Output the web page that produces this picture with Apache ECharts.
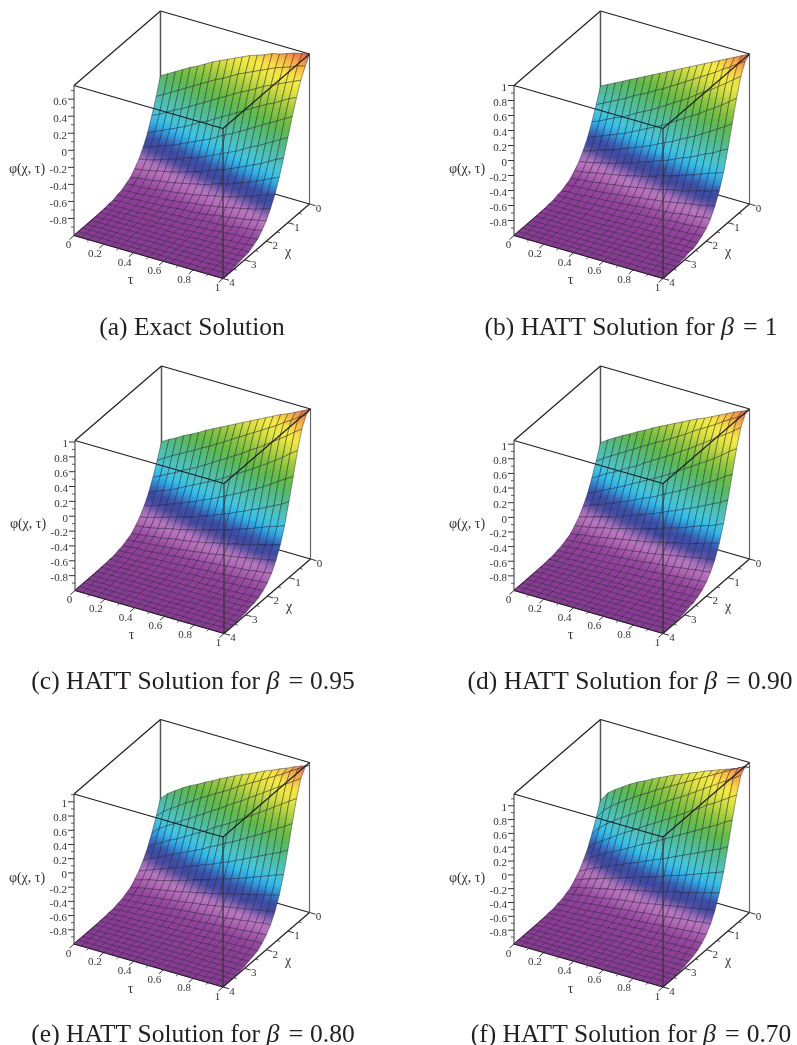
<!DOCTYPE html>
<html>
<head>
<meta charset="utf-8">
<style>html,body{margin:0;padding:0;background:#fff}#c{width:797px;height:1045px}</style>
<script src="https://cdn.jsdelivr.net/npm/echarts@6/dist/echarts.min.js"></script>
</head>
<body>
<div id="c"></div>
<script>
const tauValues = [0,.05,.1,.15,.2,.25,.3,.35,.4,.45,.5,.55,.6,.65,.7,.75,.8,.85,.9,.95,1];
const chiValues = [0,.2,.4,.6,.8,1,1.2,1.4,1.6,1.8,2,2.2,2.4,2.6,2.8,3,3.2,3.4,3.6,3.8,4];
const tauTicks = [0,.2,.4,.6,.8,1];
const tauMinor = [.1,.3,.5,.7,.9];
const chiTicks = [0,1,2,3,4];
const chiMinor = [.5,1.5,2.5,3.5];
const phiTicksExact = [.6,.4,.2,0,-.2,-.4,-.6,-.8];
const phiTicks = [1,.8,.6,.4,.2,0,-.2,-.4,-.6,-.8];
const phiMinor = [1.1,.9,.7,.5,.3,.1,-.1,-.3,-.5,-.7,-.9];
const captionA = '(a) Exact Solution';
const captionB = '(b) HATT Solution for {m|β}{e|=}1';
const captionC = '(c) HATT Solution for {m|β}{e|=}0.95';
const captionD = '(d) HATT Solution for {m|β}{e|=}0.90';
const captionE = '(e) HATT Solution for {m|β}{e|=}0.80';
const captionF = '(f) HATT Solution for {m|β}{e|=}0.70';

// far side of every surface (chi = 2.8 ... 4), rows of tau = 0 ... 1
const farRows = [
[-.99,-.99,-.99,-.99,-.98,-.98,-.98,-.98,-.98,-.98,-.97,-.97,-.97,-.97,-.97,-.97,-.96,-.96,-.96,-.96,-.95],
[-1,-.99,-.99,-.99,-.99,-.99,-.99,-.99,-.99,-.98,-.98,-.98,-.98,-.98,-.98,-.98,-.98,-.97,-.97,-.97,-.97],
[-1,-1,-1,-.99,-.99,-.99,-.99,-.99,-.99,-.99,-.99,-.99,-.99,-.98,-.98,-.98,-.98,-.98,-.98,-.98,-.98],
[-1,-1,-1,-1,-1,-1,-1,-.99,-.99,-.99,-.99,-.99,-.99,-.99,-.99,-.99,-.99,-.99,-.99,-.99,-.99],
[-1,-1,-1,-1,-1,-1,-1,-1,-1,-1,-1,-1,-.99,-.99,-.99,-.99,-.99,-.99,-.99,-.99,-.99],
[-1,-1,-1,-1,-1,-1,-1,-1,-1,-1,-1,-1,-1,-1,-1,-1,-1,-1,-.99,-.99,-.99],
[-1,-1,-1,-1,-1,-1,-1,-1,-1,-1,-1,-1,-1,-1,-1,-1,-1,-1,-1,-1,-1]
];

const phiExact = [
[0,.05,.10,.15,.20,.24,.29,.34,.38,.42,.46,.50,.54,.57,.60,.64,.66,.69,.72,.74,.76],
[-.20,-.15,-.10,-.05,0,.05,.10,.15,.20,.24,.29,.34,.38,.42,.46,.50,.54,.57,.60,.64,.66],
[-.38,-.34,-.29,-.24,-.20,-.15,-.10,-.05,0,.05,.10,.15,.20,.24,.29,.34,.38,.42,.46,.50,.54],
[-.54,-.50,-.46,-.42,-.38,-.34,-.29,-.24,-.20,-.15,-.10,-.05,0,.05,.10,.15,.20,.24,.29,.34,.38],
[-.66,-.64,-.60,-.57,-.54,-.50,-.46,-.42,-.38,-.34,-.29,-.24,-.20,-.15,-.10,-.05,0,.05,.10,.15,.20],
[-.76,-.74,-.72,-.69,-.66,-.64,-.60,-.57,-.54,-.50,-.46,-.42,-.38,-.34,-.29,-.24,-.20,-.15,-.10,-.05,0],
[-.83,-.82,-.80,-.78,-.76,-.74,-.72,-.69,-.66,-.64,-.60,-.57,-.54,-.50,-.46,-.42,-.38,-.34,-.29,-.24,-.20],
[-.89,-.87,-.86,-.85,-.83,-.82,-.80,-.78,-.76,-.74,-.72,-.69,-.66,-.64,-.60,-.57,-.54,-.50,-.46,-.42,-.38],
[-.92,-.91,-.91,-.90,-.89,-.87,-.86,-.85,-.83,-.82,-.80,-.78,-.76,-.74,-.72,-.69,-.66,-.64,-.60,-.57,-.54],
[-.95,-.94,-.94,-.93,-.92,-.91,-.91,-.90,-.89,-.87,-.86,-.85,-.83,-.82,-.80,-.78,-.76,-.74,-.72,-.69,-.66],
[-.96,-.96,-.96,-.95,-.95,-.94,-.94,-.93,-.92,-.91,-.91,-.90,-.89,-.87,-.86,-.85,-.83,-.82,-.80,-.78,-.76],
[-.98,-.97,-.97,-.97,-.96,-.96,-.96,-.95,-.95,-.94,-.94,-.93,-.92,-.91,-.91,-.90,-.89,-.87,-.86,-.85,-.83],
[-.98,-.98,-.98,-.98,-.98,-.97,-.97,-.97,-.96,-.96,-.96,-.95,-.95,-.94,-.94,-.93,-.92,-.91,-.91,-.90,-.89],
[-.99,-.99,-.99,-.98,-.98,-.98,-.98,-.98,-.98,-.97,-.97,-.97,-.96,-.96,-.96,-.95,-.95,-.94,-.94,-.93,-.92],
[-.99,-.99,-.99,-.99,-.99,-.99,-.99,-.98,-.98,-.98,-.98,-.98,-.98,-.97,-.97,-.97,-.96,-.96,-.96,-.95,-.95],
[-1,-1,-.99,-.99,-.99,-.99,-.99,-.99,-.99,-.99,-.99,-.98,-.98,-.98,-.98,-.98,-.98,-.97,-.97,-.97,-.96],
[-1,-1,-1,-1,-.99,-.99,-.99,-.99,-.99,-.99,-.99,-.99,-.99,-.99,-.98,-.98,-.98,-.98,-.98,-.98,-.97],
[-1,-1,-1,-1,-1,-1,-1,-.99,-.99,-.99,-.99,-.99,-.99,-.99,-.99,-.99,-.99,-.99,-.99,-.98,-.98],
[-1,-1,-1,-1,-1,-1,-1,-1,-1,-1,-1,-1,-.99,-.99,-.99,-.99,-.99,-.99,-.99,-.99,-.99],
[-1,-1,-1,-1,-1,-1,-1,-1,-1,-1,-1,-1,-1,-1,-1,-1,-1,-1,-.99,-.99,-.99],
[-1,-1,-1,-1,-1,-1,-1,-1,-1,-1,-1,-1,-1,-1,-1,-1,-1,-1,-1,-1,-1]
];

const phiBeta100 = [
[0,.05,.10,.15,.20,.25,.30,.35,.40,.45,.50,.55,.60,.65,.70,.75,.80,.85,.90,.95,1],
[-.20,-.15,-.10,-.05,0,.06,.11,.16,.22,.27,.33,.39,.45,.51,.57,.63,.69,.76,.82,.89,.95],
[-.38,-.34,-.29,-.24,-.20,-.15,-.09,-.04,.01,.07,.13,.19,.25,.31,.38,.45,.51,.58,.65,.73,.80],
[-.54,-.50,-.46,-.42,-.38,-.34,-.29,-.24,-.19,-.14,-.09,-.03,.03,.09,.15,.21,.28,.34,.41,.48,.56],
[-.66,-.64,-.60,-.57,-.54,-.50,-.46,-.42,-.38,-.34,-.29,-.24,-.20,-.14,-.09,-.04,.02,.08,.14,.20,.27],
[-.76,-.74,-.72,-.69,-.67,-.64,-.61,-.58,-.54,-.51,-.47,-.43,-.40,-.35,-.31,-.27,-.22,-.17,-.13,-.07,-.02],
[-.83,-.82,-.80,-.78,-.76,-.74,-.72,-.70,-.67,-.65,-.62,-.59,-.56,-.53,-.50,-.46,-.43,-.39,-.35,-.32,-.28],
[-.89,-.87,-.86,-.85,-.83,-.82,-.80,-.79,-.77,-.75,-.73,-.71,-.69,-.66,-.64,-.62,-.59,-.56,-.54,-.51,-.48],
[-.92,-.91,-.90,-.90,-.89,-.88,-.87,-.85,-.84,-.83,-.81,-.80,-.78,-.77,-.75,-.73,-.71,-.69,-.68,-.65,-.63],
[-.95,-.94,-.94,-.93,-.92,-.92,-.91,-.90,-.89,-.88,-.87,-.86,-.85,-.84,-.83,-.82,-.80,-.79,-.78,-.76,-.75],
[-.96,-.96,-.96,-.95,-.95,-.94,-.94,-.93,-.93,-.92,-.91,-.90,-.90,-.89,-.88,-.87,-.86,-.86,-.85,-.84,-.83],
[-.98,-.97,-.97,-.97,-.97,-.96,-.96,-.95,-.95,-.95,-.94,-.94,-.93,-.93,-.92,-.91,-.91,-.90,-.90,-.89,-.88],
[-.98,-.98,-.98,-.98,-.98,-.97,-.97,-.97,-.97,-.96,-.96,-.96,-.95,-.95,-.95,-.94,-.94,-.94,-.93,-.93,-.92],
[-.99,-.99,-.99,-.98,-.98,-.98,-.98,-.98,-.98,-.97,-.97,-.97,-.97,-.97,-.96,-.96,-.96,-.96,-.95,-.95,-.95],
...farRows
];

const phiBeta95 = [
[0,.06,.11,.17,.22,.27,.33,.38,.43,.48,.53,.58,.63,.68,.73,.78,.83,.87,.92,.97,1.02],
[-.20,-.14,-.08,-.03,.03,.08,.14,.19,.25,.31,.37,.43,.49,.55,.61,.67,.73,.80,.86,.93,.99],
[-.38,-.33,-.28,-.23,-.17,-.12,-.07,-.01,.05,.11,.17,.23,.29,.36,.42,.49,.56,.63,.70,.78,.85],
[-.54,-.49,-.45,-.41,-.36,-.31,-.26,-.21,-.16,-.11,-.05,.01,.07,.13,.19,.26,.32,.39,.46,.54,.61],
[-.66,-.63,-.60,-.56,-.52,-.48,-.44,-.40,-.35,-.31,-.26,-.21,-.16,-.11,-.05,0,.06,.12,.19,.25,.31],
[-.76,-.74,-.71,-.68,-.65,-.62,-.59,-.56,-.52,-.49,-.45,-.41,-.37,-.32,-.28,-.23,-.19,-.14,-.09,-.04,.02],
[-.83,-.82,-.80,-.78,-.75,-.73,-.71,-.68,-.66,-.63,-.60,-.57,-.54,-.51,-.47,-.44,-.40,-.36,-.32,-.29,-.25],
[-.89,-.87,-.86,-.84,-.83,-.81,-.79,-.78,-.76,-.74,-.72,-.69,-.67,-.65,-.62,-.60,-.57,-.54,-.52,-.49,-.46],
[-.92,-.91,-.90,-.89,-.88,-.87,-.86,-.85,-.83,-.82,-.80,-.79,-.77,-.75,-.74,-.72,-.70,-.68,-.66,-.64,-.62],
[-.95,-.94,-.93,-.93,-.92,-.91,-.90,-.89,-.88,-.87,-.86,-.85,-.84,-.83,-.82,-.81,-.80,-.79,-.77,-.76,-.74],
[-.96,-.96,-.95,-.95,-.95,-.94,-.93,-.93,-.92,-.91,-.91,-.90,-.89,-.89,-.88,-.87,-.86,-.85,-.84,-.83,-.82],
[-.98,-.97,-.97,-.97,-.96,-.96,-.95,-.95,-.95,-.94,-.94,-.93,-.93,-.92,-.92,-.91,-.90,-.90,-.89,-.88,-.88],
[-.98,-.98,-.98,-.98,-.97,-.97,-.97,-.97,-.96,-.96,-.96,-.95,-.95,-.95,-.94,-.94,-.94,-.93,-.93,-.92,-.92],
[-.99,-.99,-.99,-.98,-.98,-.98,-.98,-.98,-.97,-.97,-.97,-.97,-.97,-.96,-.96,-.96,-.96,-.95,-.95,-.95,-.94],
...farRows
];

const phiBeta90 = [
[0,.07,.13,.19,.24,.30,.35,.41,.46,.51,.56,.61,.66,.71,.75,.80,.85,.90,.95,.99,1.04],
[-.20,-.13,-.07,-.01,.05,.11,.17,.23,.29,.34,.40,.46,.52,.59,.65,.71,.77,.84,.90,.96,1.03],
[-.38,-.32,-.26,-.21,-.15,-.09,-.04,.03,.09,.15,.21,.27,.34,.40,.47,.54,.61,.68,.75,.82,.90],
[-.54,-.49,-.44,-.39,-.34,-.29,-.23,-.18,-.12,-.07,-.01,.05,.11,.18,.24,.31,.37,.44,.51,.59,.66],
[-.66,-.62,-.58,-.55,-.50,-.46,-.42,-.37,-.32,-.28,-.23,-.17,-.12,-.07,-.01,.05,.11,.17,.23,.30,.36],
[-.76,-.73,-.70,-.67,-.64,-.61,-.57,-.53,-.50,-.46,-.42,-.38,-.33,-.29,-.24,-.20,-.15,-.10,-.05,0,.06],
[-.83,-.81,-.79,-.77,-.74,-.72,-.69,-.66,-.64,-.61,-.58,-.55,-.51,-.48,-.45,-.41,-.37,-.33,-.30,-.26,-.21],
[-.89,-.87,-.85,-.84,-.82,-.80,-.78,-.76,-.74,-.72,-.70,-.68,-.65,-.63,-.60,-.58,-.55,-.52,-.49,-.46,-.43],
[-.92,-.91,-.90,-.89,-.88,-.86,-.85,-.84,-.82,-.81,-.79,-.78,-.76,-.74,-.72,-.70,-.68,-.66,-.64,-.62,-.60],
[-.95,-.94,-.93,-.92,-.92,-.91,-.90,-.89,-.88,-.87,-.86,-.85,-.83,-.82,-.81,-.80,-.78,-.77,-.75,-.74,-.72],
[-.96,-.96,-.95,-.95,-.94,-.94,-.93,-.93,-.92,-.91,-.90,-.90,-.89,-.88,-.87,-.86,-.85,-.84,-.83,-.82,-.81],
[-.98,-.97,-.97,-.96,-.96,-.96,-.95,-.95,-.94,-.94,-.93,-.93,-.92,-.92,-.91,-.90,-.90,-.89,-.88,-.88,-.87],
[-.98,-.98,-.98,-.98,-.97,-.97,-.97,-.96,-.96,-.96,-.95,-.95,-.95,-.94,-.94,-.94,-.93,-.93,-.92,-.92,-.91],
[-.99,-.99,-.99,-.98,-.98,-.98,-.98,-.97,-.97,-.97,-.97,-.97,-.96,-.96,-.96,-.96,-.95,-.95,-.95,-.94,-.94],
...farRows
];

const phiBeta80 = [
[0,.10,.17,.24,.30,.35,.41,.46,.52,.57,.62,.67,.71,.76,.81,.85,.90,.94,.99,1.03,1.07],
[-.20,-.10,-.03,.04,.11,.17,.24,.30,.36,.42,.48,.55,.61,.67,.73,.79,.85,.91,.98,1.04,1.10],
[-.38,-.29,-.22,-.16,-.09,-.03,.04,.10,.17,.23,.30,.37,.43,.50,.57,.64,.71,.78,.85,.92,.99],
[-.54,-.46,-.40,-.34,-.29,-.23,-.17,-.11,-.05,.02,.08,.14,.21,.27,.34,.41,.48,.55,.62,.69,.76],
[-.66,-.60,-.56,-.51,-.46,-.41,-.36,-.31,-.26,-.20,-.15,-.09,-.04,.02,.08,.14,.20,.26,.33,.39,.46],
[-.76,-.72,-.68,-.64,-.60,-.56,-.53,-.48,-.44,-.40,-.36,-.31,-.27,-.22,-.17,-.12,-.07,-.02,.03,.08,.14],
[-.83,-.80,-.77,-.75,-.72,-.69,-.66,-.63,-.59,-.56,-.53,-.49,-.46,-.42,-.39,-.35,-.31,-.27,-.23,-.19,-.15],
[-.89,-.86,-.84,-.82,-.80,-.78,-.76,-.74,-.71,-.69,-.66,-.64,-.61,-.59,-.56,-.53,-.50,-.48,-.45,-.42,-.39],
[-.92,-.91,-.89,-.88,-.86,-.85,-.83,-.82,-.80,-.78,-.77,-.75,-.73,-.71,-.69,-.67,-.65,-.63,-.61,-.59,-.57],
[-.95,-.94,-.93,-.92,-.91,-.90,-.89,-.87,-.86,-.85,-.84,-.83,-.81,-.80,-.79,-.77,-.76,-.74,-.73,-.71,-.70],
[-.96,-.96,-.95,-.94,-.94,-.93,-.92,-.91,-.91,-.90,-.89,-.88,-.87,-.86,-.85,-.84,-.83,-.82,-.81,-.80,-.79],
[-.98,-.97,-.96,-.96,-.95,-.95,-.94,-.94,-.93,-.93,-.92,-.92,-.91,-.90,-.90,-.89,-.88,-.88,-.87,-.86,-.86],
[-.98,-.98,-.97,-.97,-.97,-.96,-.96,-.96,-.95,-.95,-.95,-.94,-.94,-.93,-.93,-.93,-.92,-.92,-.91,-.91,-.91],
[-.99,-.99,-.98,-.98,-.98,-.98,-.97,-.97,-.97,-.97,-.96,-.96,-.96,-.96,-.95,-.95,-.95,-.94,-.94,-.94,-.93],
...farRows
];

const phiBeta70 = [
[0,.14,.22,.29,.36,.42,.47,.53,.58,.63,.68,.72,.77,.81,.86,.90,.94,.98,1.02,1.06,1.10],
[-.20,-.06,.03,.11,.18,.25,.32,.38,.45,.51,.57,.63,.69,.75,.81,.87,.93,.99,1.05,1.11,1.17],
[-.38,-.26,-.17,-.09,-.02,.05,.12,.19,.26,.33,.40,.47,.53,.60,.67,.74,.81,.88,.95,1.02,1.09],
[-.54,-.43,-.36,-.29,-.22,-.15,-.09,-.02,.05,.11,.18,.24,.31,.38,.45,.51,.59,.65,.72,.79,.86],
[-.66,-.58,-.52,-.46,-.40,-.35,-.29,-.23,-.17,-.12,-.06,0,.06,.12,.18,.24,.30,.36,.42,.49,.55],
[-.76,-.70,-.65,-.60,-.56,-.51,-.47,-.42,-.38,-.33,-.28,-.24,-.19,-.14,-.09,-.04,.01,.06,.11,.16,.22],
[-.83,-.79,-.75,-.72,-.68,-.65,-.61,-.58,-.54,-.51,-.47,-.44,-.40,-.36,-.33,-.29,-.25,-.21,-.17,-.13,-.09],
[-.89,-.85,-.83,-.80,-.78,-.75,-.73,-.70,-.67,-.65,-.62,-.60,-.57,-.54,-.51,-.49,-.46,-.43,-.40,-.37,-.34],
[-.92,-.90,-.88,-.86,-.85,-.83,-.81,-.79,-.77,-.76,-.74,-.72,-.70,-.68,-.66,-.64,-.62,-.60,-.58,-.56,-.54],
[-.95,-.93,-.92,-.91,-.89,-.88,-.87,-.86,-.84,-.83,-.82,-.80,-.79,-.78,-.76,-.75,-.73,-.72,-.71,-.69,-.68],
[-.96,-.95,-.94,-.94,-.93,-.92,-.91,-.90,-.90,-.89,-.88,-.87,-.86,-.85,-.84,-.83,-.82,-.81,-.80,-.79,-.78],
[-.98,-.97,-.96,-.96,-.95,-.95,-.94,-.93,-.93,-.92,-.91,-.91,-.90,-.90,-.89,-.88,-.88,-.87,-.86,-.86,-.85],
[-.98,-.98,-.97,-.97,-.96,-.96,-.96,-.95,-.95,-.94,-.94,-.94,-.93,-.93,-.92,-.92,-.92,-.91,-.91,-.90,-.90],
[-.99,-.98,-.98,-.98,-.97,-.97,-.97,-.97,-.96,-.96,-.96,-.95,-.95,-.95,-.95,-.94,-.94,-.94,-.93,-.93,-.93],
...farRows
];

// Height shading, from the floor to the top of each box
const shadeStops = [0,.06,.10,.135,.165,.195,.25,.285,.325,.37,.43,.50,.60,.70,.78,.86,.93,1];
const shadeColors = ['#8a3a94','#95459d','#b066b4','#bd79bf','#8560b2','#40489f','#3a4ea9','#2f88d0','#2cbaee','#42c8dc','#4cc2b8','#4fbd8c','#5cba45','#93c83c','#d6e03c','#f8ee3e','#fab83f','#ec5f4a'];

const VIEW = {tauX:149, chiX:86.5, tauY:43, chiY:74.5, up:150, width:235.5, height:267.5};

const panels = [
  {rows:phiExact,  min:-1, max:.76, ticks:phiTicksExact, left:74,  bottom:278.5, caption:captionA, capX:192, capY:315},
  {rows:phiBeta100,min:-1, max:1,   ticks:phiTicks,      left:514, bottom:278.5, caption:captionB, capX:631, capY:315},
  {rows:phiBeta95, min:-1, max:1.02,ticks:phiTicks,      left:75,  bottom:633.5, caption:captionC, capX:193, capY:669},
  {rows:phiBeta90, min:-1, max:1.05,ticks:phiTicks,      left:514, bottom:633.5, caption:captionD, capX:630, capY:669},
  {rows:phiBeta80, min:-1, max:1.11,ticks:phiTicks,      left:74,  bottom:987,   caption:captionE, capX:193, capY:1022},
  {rows:phiBeta70, min:-1, max:1.17,ticks:phiTicks,      left:514, bottom:987,   caption:captionF, capX:631, capY:1022}
];

function shade(n){
  n = Math.max(0, Math.min(1, n));
  for (let k = 1; k < shadeStops.length; k++) {
    if (n <= shadeStops[k]) {
      const f = (n - shadeStops[k-1]) / (shadeStops[k] - shadeStops[k-1]);
      return echarts.color.lerp(f, [shadeColors[k-1], shadeColors[k]]);
    }
  }
  return shadeColors[shadeColors.length-1];
}

function project(p, tau, chi, phi){
  const c = 1 - chi/4;
  return [
    VIEW.tauX*tau + VIEW.chiX*c,
    VIEW.tauY*(1-tau) + VIEW.chiY*c + VIEW.up*(phi-p.min)/(p.max-p.min)
  ];
}

const LINE = '#1f1f1f';
const FONT = '"Liberation Serif", serif';

function labelEl(x, y, text, size, align){
  return {type:'text', x:x, y:y, silent:true, style:{
    text:text, fill:'#333', font:size+'px '+FONT,
    align:align||'center', verticalAlign:'middle',
    textAlign:align||'center', textVerticalAlign:'middle'}};
}
function lineEl(a, b, color, width){
  return {type:'line', silent:true, shape:{x1:a[0],y1:a[1],x2:b[0],y2:b[1]},
    style:{stroke:color||LINE, lineWidth:width||1.2, fill:null}};
}

function surfaceSeries(p, idx){
  const data = [];
  for (let i = 0; i < chiValues.length-1; i++)
    for (let j = 0; j < tauValues.length-1; j++) data.push([i,j]);
  return {
    type:'custom', coordinateSystem:'cartesian2d', xAxisIndex:idx, yAxisIndex:idx, silent:true,
    animation:false, z:3, data:data,
    renderItem:function(params, api){
      const i = api.value(0), j = api.value(1);
      const pt = (a,b) => api.coord(project(p, tauValues[b], chiValues[a], p.rows[a][b]));
      const q = [pt(i,j), pt(i,j+1), pt(i+1,j+1), pt(i+1,j)];
      const r = p.rows;
      const n = v => (v-p.min)/(p.max-p.min);
      const nA = n((r[i][j]+r[i][j+1])/2), nB = n((r[i+1][j]+r[i+1][j+1])/2);
      const g = new echarts.graphic.LinearGradient(
        (q[0][0]+q[1][0])/2, (q[0][1]+q[1][1])/2,
        (q[2][0]+q[3][0])/2, (q[2][1]+q[3][1])/2,
        [{offset:0,color:shade(nA)},{offset:.5,color:shade((nA+nB)/2)},{offset:1,color:shade(nB)}], true);
      return {type:'polygon', silent:true, shape:{points:q},
        style:{fill:g, stroke:'rgba(30,28,50,.55)', lineWidth:.8}};
    }
  };
}

function frameSeries(p, idx, front){
  return {
    type:'custom', coordinateSystem:'cartesian2d', xAxisIndex:idx, yAxisIndex:idx, silent:true,
    animation:false, z:front?4:2, data:[[0,0]],
    renderItem:function(params, api){
      const P = (t,c,f) => api.coord(project(p,t,c,f));
      const lo = p.min, hi = p.max, kids = [];
      if (!front) {
        kids.push(lineEl(P(0,0,lo),P(0,0,hi),'#555',1.5));
        kids.push(lineEl(P(0,0,lo),P(1,0,lo)));
        kids.push(lineEl(P(0,0,lo),P(0,4,lo)));
        kids.push(lineEl(P(1,0,lo),P(1,0,hi),'#666',1.2));
      } else {
        kids.push(lineEl(P(0,4,lo),P(0,4,hi),'#555',1.2));
        kids.push(lineEl(P(1,4,lo),P(1,4,hi),'#333',1.2));
        kids.push(lineEl(P(0,4,lo),P(1,4,lo)));
        kids.push(lineEl(P(1,4,lo),P(1,0,lo)));
        kids.push(lineEl(P(0,4,hi),P(1,4,hi)));
        kids.push(lineEl(P(1,4,hi),P(1,0,hi)));
        kids.push(lineEl(P(1,0,hi),P(0,0,hi)));
        kids.push(lineEl(P(0,0,hi),P(0,4,hi)));
      }
      return {type:'group', children:kids};
    }
  };
}

function axisSeries(p, idx){
  return {
    type:'custom', coordinateSystem:'cartesian2d', xAxisIndex:idx, yAxisIndex:idx, silent:true,
    animation:false, z:5, data:[[0,0]],
    renderItem:function(params, api){
      const P = (t,c,f) => api.coord(project(p,t,c,f));
      const kids = [], lo = p.min;
      p.ticks.forEach(v => {
        const a = P(0,4,v);
        kids.push(lineEl(a,[a[0]-6,a[1]],'#333',1));
        kids.push(labelEl(a[0]-7,a[1]+2.5,String(v),11,'right'));
      });
      phiMinor.filter(v => v > p.min && v < p.max).forEach(v => {
        const a = P(0,4,v);
        kids.push(lineEl(a,[a[0]-3,a[1]],'#333',.8));
      });
      tauTicks.forEach((v,k) => {
        const a = P(v,4,lo), end = (k===0||k===tauTicks.length-1);
        kids.push(lineEl(a,[a[0]-4.5,a[1]+4],'#333',1));
        kids.push(labelEl(a[0]-(end?5.5:9),a[1]+10,String(v),11));
      });
      tauMinor.forEach(v => {
        const a = P(v,4,lo);
        kids.push(lineEl(a,[a[0]-2.3,a[1]+2],'#333',.8));
      });
      chiTicks.forEach(v => {
        const a = P(1,v,lo);
        kids.push(lineEl(a,[a[0]+6,a[1]+1.7],'#333',1));
        kids.push(labelEl(a[0]+9,a[1]+5,String(v),11));
      });
      chiMinor.forEach(v => {
        const a = P(1,v,lo);
        kids.push(lineEl(a,[a[0]+3,a[1]+.9],'#333',.8));
      });
      const tt = P(.5,4,lo); kids.push(labelEl(tt[0]-18,tt[1]+23.5,'τ',14));
      const ct = P(1,1.5,lo); kids.push(labelEl(ct[0]+11,ct[1]+20.5,'χ',14));
      const pl = P(0,4,lo); kids.push(labelEl(pl[0]-47,pl[1]-66,'φ(χ, τ)',14));
      return {type:'group', children:kids};
    }
  };
}

const option = {
  backgroundColor:'#fff', animation:false,
  title: panels.map(p => ({
    text:p.caption, left:p.capX, top:p.capY, textAlign:'center', padding:0,
    textStyle:{fontFamily:FONT, fontSize:25.5, fontWeight:'normal', color:'#231f20',
      rich:{
        m:{fontFamily:FONT, fontSize:26, fontStyle:'italic', color:'#231f20', padding:[0,2,0,0]},
        e:{fontFamily:FONT, fontSize:26, color:'#231f20', padding:[0,7,0,7]}
      }}
  })),
  grid: panels.map(p => ({left:p.left, top:p.bottom-VIEW.height, width:VIEW.width, height:VIEW.height, show:false})),
  xAxis: panels.map((p,k) => ({type:'value', gridIndex:k, min:0, max:VIEW.width, show:false})),
  yAxis: panels.map((p,k) => ({type:'value', gridIndex:k, min:0, max:VIEW.height, show:false})),
  series: panels.flatMap((p,k) => [frameSeries(p,k,false), surfaceSeries(p,k), frameSeries(p,k,true), axisSeries(p,k)])
};
const chart = echarts.init(document.getElementById('c'), null, {renderer:'canvas'});
chart.setOption(option);
</script>
</body>
</html>
